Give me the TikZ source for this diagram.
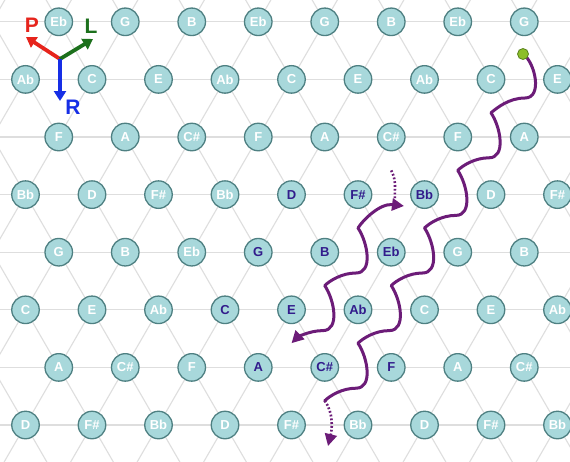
\documentclass[tikz,border=0pt]{standalone}
\usepackage{fontspec}
\setmainfont{Liberation Sans}
\usetikzlibrary{arrows.meta}

\definecolor{gridgray}{RGB}{222,222,222}
\definecolor{notefill}{RGB}{168,216,219}
\definecolor{noteedge}{RGB}{78,128,130}
\definecolor{hilite}{RGB}{50,28,140}
\definecolor{pathpurple}{RGB}{108,28,120}
\definecolor{pred}{RGB}{230,36,28}
\definecolor{lgreen}{RGB}{28,112,28}
\definecolor{rblue}{RGB}{22,46,230}
\definecolor{dotgreen}{RGB}{140,190,40}
\definecolor{dotedge}{RGB}{90,130,30}

\begin{document}
\begin{tikzpicture}[x=1pt,y=-1pt,
  note/.style={circle, fill=notefill, draw=noteedge, line width=1.3pt,
    minimum size=27.5pt, inner sep=0pt,
    font=\fontsize{13}{13}\selectfont\bfseries},
  grid line/.style={gridgray, line width=1.1pt},
  wave/.style={pathpurple, line width=3pt, line cap=round, line join=round},
  dotwave/.style={pathpurple, line width=2.6pt, dash pattern=on 1.8pt off 2pt},
  wavetip/.style={-{Triangle[length=12pt,width=12pt]}},
  wavebothtips/.style={{Triangle[length=12pt,width=12pt]}-{Triangle[length=12pt,width=12pt]}},
  plr/.style={line width=3.8pt, -{Triangle[length=10pt,width=12pt]}},
  plrlabel/.style={font=\fontsize{21}{21}\selectfont\bfseries, inner sep=0pt}]

\useasboundingbox (0,0) rectangle (570,461);
\fill[white] (0,0) rectangle (570,461);
\clip (0,0) rectangle (570,461);

% triangular lattice: rows, and the two diagonal families
\foreach \r in {0,...,7}
  \draw[grid line] (0,{21.8+57.6*\r}) -- (570,{21.8+57.6*\r});
\foreach \k in {-3,-1,...,29}
  \draw[grid line] ({25.5+33.25*(\k+1)},{21.8-57.6}) -- ({25.5+33.25*(\k-9)},{21.8+57.6*9});
\foreach \m in {-13,-11,...,19}
  \draw[grid line] ({25.5+33.25*(\m-1)},{21.8-57.6}) -- ({25.5+33.25*(\m+9)},{21.8+57.6*9});

% pitch-class nodes, row by row
\foreach \lab/\tc [count=\i from 0] in {Eb/white,G/white,B/white,Eb/white,G/white,B/white,Eb/white,G/white}
  \node[note, text=\tc] (n0-\i) at ({25.5+33.25*(2*\i+1)},21.8) {\lab};
\foreach \lab/\tc [count=\i from 0] in {Ab/white,C/white,E/white,Ab/white,C/white,E/white,Ab/white,C/white,E/white}
  \node[note, text=\tc] (n1-\i) at ({25.5+66.5*\i},79.4) {\lab};
\foreach \lab/\tc [count=\i from 0] in {F/white,A/white,C\#/white,F/white,A/white,C\#/white,F/white,A/white}
  \node[note, text=\tc] (n2-\i) at ({25.5+33.25*(2*\i+1)},137.0) {\lab};
\foreach \lab/\tc [count=\i from 0] in {Bb/white,D/white,F\#/white,Bb/white,D/hilite,F\#/hilite,Bb/hilite,D/white,F\#/white}
  \node[note, text=\tc] (n3-\i) at ({25.5+66.5*\i},194.6) {\lab};
\foreach \lab/\tc [count=\i from 0] in {G/white,B/white,Eb/white,G/hilite,B/hilite,Eb/hilite,G/white,B/white}
  \node[note, text=\tc] (n4-\i) at ({25.5+33.25*(2*\i+1)},252.2) {\lab};
\foreach \lab/\tc [count=\i from 0] in {C/white,E/white,Ab/white,C/hilite,E/hilite,Ab/hilite,C/white,E/white,Ab/white}
  \node[note, text=\tc] (n5-\i) at ({25.5+66.5*\i},309.8) {\lab};
\foreach \lab/\tc [count=\i from 0] in {A/white,C\#/white,F/white,A/hilite,C\#/hilite,F/hilite,A/white,C\#/white}
  \node[note, text=\tc] (n6-\i) at ({25.5+33.25*(2*\i+1)},367.4) {\lab};
\foreach \lab/\tc [count=\i from 0] in {D/white,F\#/white,Bb/white,D/white,F\#/white,Bb/white,D/white,F\#/white,Bb/white}
  \node[note, text=\tc] (n7-\i) at ({25.5+66.5*\i},425.0) {\lab};

% turning points of the long R/L chain
\coordinate (c0) at (523,54);
\coordinate (m0) at (525,98);
\coordinate (c1) at (491,112.8);
\coordinate (m1) at (489,157.8);
\coordinate (c2) at (457.75,170.4);
\coordinate (m2) at (455.75,215.4);
\coordinate (c3) at (424.5,228);
\coordinate (m3) at (422.5,273);
\coordinate (c4) at (391.25,285.6);
\coordinate (m4) at (389.25,330.6);
\coordinate (c5) at (358,343.2);
\coordinate (m5) at (356,388.2);
\coordinate (c6) at (324.75,400.8);
\coordinate (e6) at (328,446);

% turning points of the short chain
\coordinate (s2) at (391.25,170.4);
\coordinate (d2) at (395,199);
\coordinate (t2) at (404,206);
\coordinate (s3) at (358,228);
\coordinate (ms3) at (356,273);
\coordinate (s4) at (324.75,285.6);
\coordinate (ms4) at (322.75,330.6);
\coordinate (s5) at (291.5,343.2);

% long chain
\draw[wave] (c0) .. controls +(12,8) and +(18,0) .. (m0)
  .. controls +(-16,0) and +(6,-5) .. (c1)
  .. controls +(10,15) and +(17,0) .. (m1)
  .. controls +(-14,0) and +(5,-5) .. (c2)
  .. controls +(10,15) and +(17,0) .. (m2)
  .. controls +(-14,0) and +(5,-5) .. (c3)
  .. controls +(10,15) and +(17,0) .. (m3)
  .. controls +(-14,0) and +(5,-5) .. (c4)
  .. controls +(10,15) and +(17,0) .. (m4)
  .. controls +(-14,0) and +(5,-5) .. (c5)
  .. controls +(10,15) and +(17,0) .. (m5)
  .. controls +(-14,0) and +(5,-5) .. (c6);
\draw[dotwave, wavetip] (c6) .. controls +(9,12) and +(4,-16) .. (e6);

% short chain
\draw[dotwave] (s2) .. controls +(6,12) and +(-1,-9) .. (d2);
\draw[wave, wavebothtips] (t2) .. controls +(-24,-3) and +(5,-8) .. (s3)
  .. controls +(10,15) and +(17,0) .. (ms3)
  .. controls +(-14,0) and +(5,-5) .. (s4)
  .. controls +(10,15) and +(17,0) .. (ms4)
  .. controls +(-14,0) and +(5,-5) .. (s5);

% start marker
\node[circle, fill=dotgreen, draw=dotedge, line width=0.8pt, minimum size=11pt, inner sep=0pt] (startdot) at (c0) {};

% P, L, R legend
\coordinate (o) at (60,59);
\coordinate (pend) at (26,37);
\coordinate (lend) at (93,39);
\coordinate (rend) at (60,101);
\draw[plr, pred] (o) -- (pend);
\draw[plr, lgreen] (o) -- (lend);
\draw[plr, rblue] (o) -- (rend);
\node[plrlabel, text=pred] (plab) at (32,25) {P};
\node[plrlabel, text=lgreen] (llab) at (91,26) {L};
\node[plrlabel, text=rblue] (rlab) at (73,107) {R};
\end{tikzpicture}
\end{document}
